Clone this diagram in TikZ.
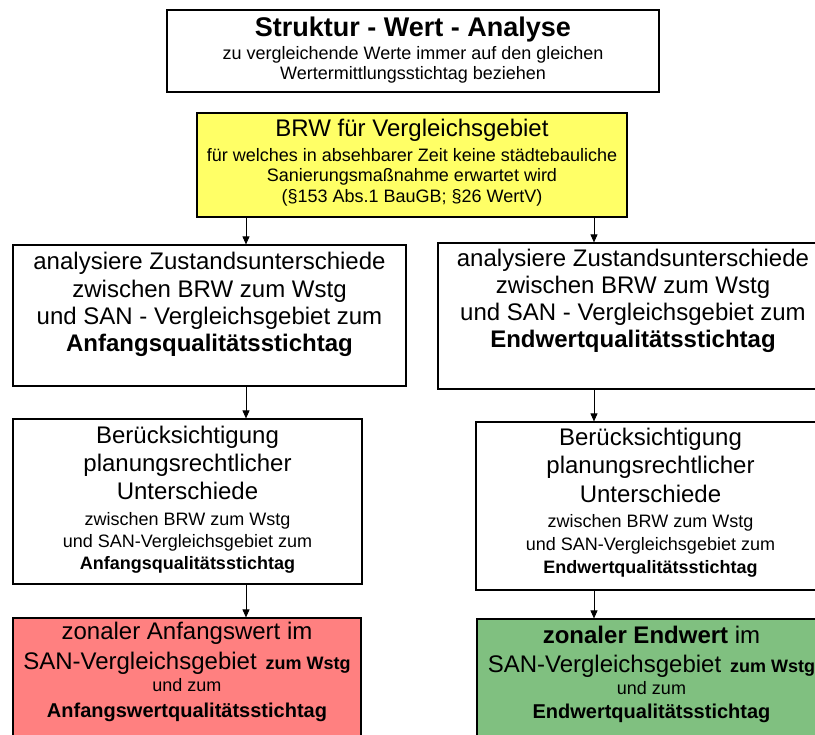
\documentclass[tikz,border=0pt]{standalone}
\usepackage{fontspec}
\setmainfont{Liberation Sans}
\usetikzlibrary{arrows.meta, positioning}

\begin{document}
\begin{tikzpicture}[x=1pt, y=-1pt,
            bx/.style={draw=black, line width=1.2pt, rectangle, inner sep=0pt},
            txt/.style={align=center, inner sep=0pt, font={\fontsize{18}{22}\selectfont\lineskiplimit=-60pt}},
            ar/.style={-{Triangle[length=8pt, width=7pt]}, line width=0.9pt}]
            \useasboundingbox (0,0) rectangle (815,735);
            \clip (0,0) rectangle (815,735);
            % boxes
            \node[bx, minimum width=492pt, minimum height=82pt] (ttl) at (413,51) {};
            \node[bx, fill={rgb,255:red,255;green,255;blue,102}, minimum width=430pt, minimum height=104pt] (yel) at (412,165) {};
            \node[bx, minimum width=393pt, minimum height=141pt] (b2l) at (209.5,315.5) {};
            \node[bx, minimum width=390pt, minimum height=146pt] (b2r) at (633,316) {};
            \node[bx, minimum width=349pt, minimum height=165pt] (b3l) at (187.5,501.5) {};
            \node[bx, minimum width=349pt, minimum height=168pt] (b3r) at (650.5,506) {};
            \node[bx, fill={rgb,255:red,255;green,128;blue,128}, minimum width=348pt, minimum height=142pt] (b4l) at (187,689) {};
            \node[bx, fill={rgb,255:red,128;green,192;blue,128}, minimum width=349pt, minimum height=142pt] (b4r) at (651.5,690) {};
            % texts
            \node[txt, font={\fontsize{18}{20}\selectfont\lineskiplimit=-60pt}, below=7.8pt of ttl.north] (ttlt)
                {\fontsize{27}{29}\selectfont\bfseries Struktur - Wert - Analyse\\[3pt]
                 zu vergleichende Werte immer auf den gleichen\\
                 Wertermittlungsstichtag beziehen};
            \node[txt, font={\fontsize{18}{20.5}\selectfont\lineskiplimit=-60pt}, below=6.5pt of yel.north] (yelt)
                {\fontsize{24}{27}\selectfont BRW für Vergleichsgebiet\\[4.5pt]
                 für welches in absehbarer Zeit keine städtebauliche\\
                 Sanierungsmaßnahme erwartet wird\\
                 (§153 Abs.1 BauGB; §26 WertV)};
            \node[txt, font={\fontsize{24}{27.3}\selectfont\lineskiplimit=-60pt}, below=7.8pt of b2l.north] (b2lt)
                {analysiere Zustandsunterschiede\\
                 zwischen BRW zum Wstg\\
                 und SAN - Vergleichsgebiet zum\\
                 \bfseries Anfangsqualitätsstichtag};
            \node[txt, font={\fontsize{24}{27}\selectfont\lineskiplimit=-60pt}, below=6.8pt of b2r.north] (b2rt)
                {analysiere Zustandsunterschiede\\
                 zwischen BRW zum Wstg\\
                 und SAN - Vergleichsgebiet zum\\
                 \bfseries Endwertqualitätsstichtag};
            \node[txt, below=7.5pt of b3l.north] (b3lt)
                {\fontsize{24}{27}\selectfont Berücksichtigung\\[6.5pt]
                 \fontsize{24}{27}\selectfont planungsrechtlicher\\[6pt]
                 \fontsize{24}{27}\selectfont Unterschiede\\[3.5pt]
                 zwischen BRW zum Wstg\\
                 und SAN-Vergleichsgebiet zum\\[0.5pt]
                 \bfseries Anfangsqualitätsstichtag};
            \node[txt, below=6.5pt of b3r.north] (b3rt)
                {\fontsize{24}{27}\selectfont Berücksichtigung\\[6.5pt]
                 \fontsize{24}{27}\selectfont planungsrechtlicher\\[6.5pt]
                 \fontsize{24}{27}\selectfont Unterschiede\\[3.5pt]
                 zwischen BRW zum Wstg\\[0.5pt]
                 und SAN-Vergleichsgebiet zum\\[1.5pt]
                 \bfseries Endwertqualitätsstichtag};
            \node[txt, below=4.5pt of b4l.north] (b4lt)
                {\fontsize{24}{27}\selectfont zonaler Anfangswert im\\[8pt]
                 \fontsize{24}{27}\selectfont SAN-Vergleichsgebiet\hspace{9pt}{\fontsize{18}{22}\selectfont\bfseries zum Wstg}\\
                 und zum\\[4pt]
                 \fontsize{20}{24}\selectfont\bfseries Anfangswertqualitätsstichtag};
            \node[txt, below=7.8pt of b4r.north] (b4rt)
                {\fontsize{24}{27}\selectfont\textbf{zonaler Endwert} im\\[7pt]
                 \fontsize{24}{27}\selectfont SAN-Vergleichsgebiet\hspace{9pt}{\fontsize{18}{22}\selectfont\bfseries zum Wstg}\\
                 und zum\\[2pt]
                 \fontsize{20}{24}\selectfont\bfseries Endwertqualitätsstichtag};
            % arrows
            \coordinate (cl) at (246,0);
            \coordinate (cr) at (594,0);
            \draw[ar] (yel.south -| cl) -- (b2l.north -| cl);
            \draw[ar] (yel.south -| cr) -- (b2r.north -| cr);
            \draw[ar] (b2l.south -| cl) -- (b3l.north -| cl);
            \draw[ar] (b2r.south -| cr) -- (b3r.north -| cr);
            \draw[ar] (b3l.south -| cl) -- (b4l.north -| cl);
            \draw[ar] (b3r.south -| cr) -- (b4r.north -| cr);
        \end{tikzpicture}
\end{document}
